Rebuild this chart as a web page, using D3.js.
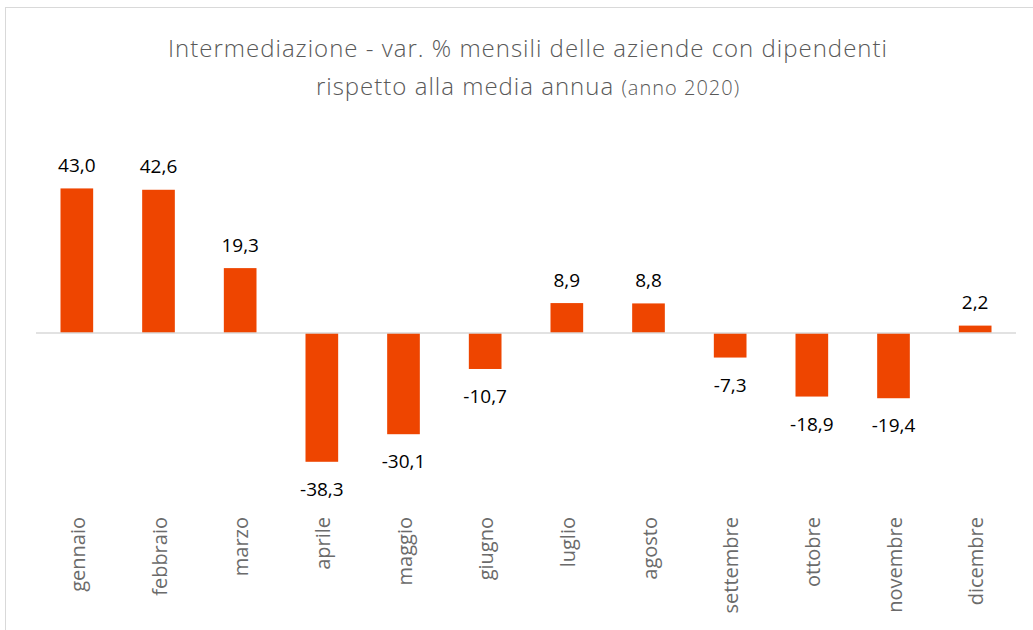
<!DOCTYPE html>
<html>
<head>
<meta charset="utf-8">
<script src="https://cdn.jsdelivr.net/npm/d3@7"></script>
<style>
  body { margin: 0; background: #fff; }
  svg { font-family: "Open Sans", "Noto Sans", sans-serif; }
</style>
</head>
<body>
<svg id="canvas" width="1033" height="630"></svg>
<script>
let months = ['gennaio', 'febbraio', 'marzo', 'aprile', 'maggio', 'giugno',
              'luglio', 'agosto', 'settembre', 'ottobre', 'novembre', 'dicembre']
let values = [43.0, 42.6, 19.3, -38.3, -30.1, -10.7, 8.9, 8.8, -7.3, -18.9, -19.4, 2.2]
let valueLabels = ['43,0', '42,6', '19,3', '-38,3', '-30,1', '-10,7', '8,9', '8,8', '-7,3', '-18,9', '-19,4', '2,2']

let canvas = d3.select('#canvas')

// chart border
canvas.append('rect')
    .attr('x', 5.5).attr('y', 7.5)
    .attr('width', 1040).attr('height', 640)
    .attr('fill', 'none')
    .attr('stroke', '#d9d9d9')

// title
let title = canvas.append('text')
    .attr('text-anchor', 'middle')
    .attr('fill', '#595959')
    .style('font-weight', 300)
    .style('letter-spacing', '1px')
title.append('tspan')
    .attr('x', 528).attr('y', 57)
    .style('font-size', '24px')
    .text('Intermediazione - var. % mensili delle aziende con dipendenti')
let line2 = title.append('tspan')
    .attr('x', 528).attr('y', 95)
    .style('font-size', '24px')
line2.append('tspan').text('rispetto alla media annua ')
line2.append('tspan').style('font-size', '20px').text('(anno 2020)')

let x = d3.scaleBand()
    .domain(months)
    .range([36, 1016])
    .paddingInner(0.6)
    .paddingOuter(0.3)

let y = d3.scaleLinear()
    .domain([-40, 45])
    .range([467.5, 181.7])

// bars
canvas.selectAll('.bar')
    .data(values)
    .enter()
    .append('rect')
    .attr('class', 'bar')
    .attr('x', (d, i) => x(months[i]))
    .attr('width', x.bandwidth())
    .attr('y', (d) => Math.min(y(d), y(0)))
    .attr('height', (d) => Math.abs(y(d) - y(0)))
    .attr('fill', '#ee4500')

// zero line
canvas.append('line')
    .attr('x1', 36).attr('x2', 1016)
    .attr('y1', y(0)).attr('y2', y(0))
    .attr('stroke', '#d9d9d9')
    .attr('stroke-width', 1.5)

// value labels
canvas.selectAll('.val')
    .data(values)
    .enter()
    .append('text')
    .attr('class', 'val')
    .attr('x', (d, i) => x(months[i]) + x.bandwidth() / 2)
    .attr('y', (d) => d >= 0 ? y(d) - 16.5 : y(d) + 34)
    .attr('text-anchor', 'middle')
    .style('font-size', '19px')
    .attr('fill', '#000')
    .text((d, i) => valueLabels[i])

// category labels
canvas.selectAll('.cat')
    .data(months)
    .enter()
    .append('text')
    .attr('class', 'cat')
    .attr('transform', (d) => 'translate(' + (x(d) + x.bandwidth() / 2 + 8) + ',517) rotate(-90)')
    .attr('text-anchor', 'end')
    .style('font-size', '20px')
    .attr('fill', '#6b6b6b')
    .text((d) => d)
</script>
</body>
</html>
